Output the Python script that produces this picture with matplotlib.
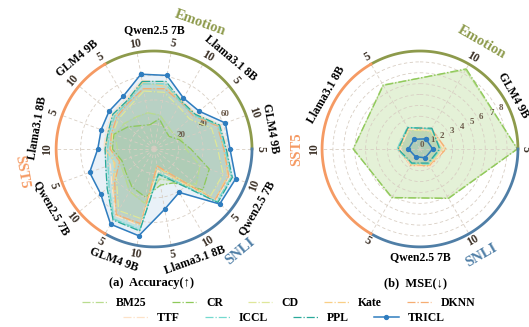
import numpy as np
import matplotlib.pyplot as plt
from matplotlib.lines import Line2D

plt.rcParams['font.family'] = ['Liberation Serif', 'DejaVu Serif']
plt.rcParams['font.weight'] = 'bold'

# ==================== DATA ====================
methods = ["BM25", "CR", "CD", "Kate", "DKNN", "TTF", "ICCL", "PPL", "TRICL"]
colors = ["#b9dc8f", "#8fc95a", "#dfe79a", "#f9cf86", "#f6ad72",
          "#fde2c8", "#74d9cf", "#2aa99a", "#2f7dbf"]

models = ["Qwen2.5 7B", "Llama3.1 8B", "GLM4 9B"]
shots = ["10", "5"]
datasets = ["Emotion", "SNLI", "SST5"]
ds_colors = ["#8d9a4b", "#4f7ea6", "#f59a63"]

# accuracy, 18 spokes clockwise from Emotion / Qwen2.5 7B / 10-shot
acc_bm25 = [30, 28, 22, 20, 24, 26, 40, 45, 30, 25, 45, 40, 32, 30, 30, 34, 32, 30]
acc_cr = [20, 25, 18, 16, 22, 30, 48, 52, 32, 30, 40, 36, 30, 28, 34, 35, 28, 22]
acc_cd = [48, 47, 40, 38, 50, 52, 60, 60, 22, 18, 58, 58, 40, 35, 35, 36, 38, 40]
acc_kate = [55, 52, 45, 44, 56, 57, 64, 65, 25, 14, 63, 62, 44, 34, 40, 40, 42, 45]
acc_dknn = [50, 50, 44, 42, 55, 57, 65, 65, 22, 14, 62, 62, 42, 30, 36, 37, 40, 43]
acc_ttf = [57, 55, 46, 45, 58, 60, 66, 66, 27, 18, 64, 63, 45, 38, 41, 42, 45, 47]
acc_iccl = [54, 54, 44, 43, 56, 58, 67, 67, 28, 20, 67, 66, 48, 40, 38, 39, 42, 44]
acc_ppl = [56, 56, 45, 44, 57, 59, 68, 68, 30, 21, 68, 67, 50, 42, 40, 40, 44, 45]
acc_tricl = [62, 61, 48, 48, 62, 62, 71, 70, 41, 50, 72, 71, 57, 56, 46, 46, 48, 50]

# mse, 6 spokes: GLM4 9B 10/5 (Emotion), Qwen2.5 7B 10/5 (SNLI), Llama3.1 8B 10/5 (SST5)
mse_bm25 = [8.4, 8.95, 5.2, 5.2, 6.1, 6.8]
mse_cr = [8.5, 8.95, 5.25, 5.15, 6.15, 6.75]
mse_cd = [1.9, 2.1, 1.7, 1.6, 1.9, 2.0]
mse_kate = [2.0, 2.3, 1.75, 1.7, 1.95, 2.1]
mse_dknn = [2.1, 2.4, 1.8, 1.75, 2.0, 2.15]
mse_ttf = [2.0, 2.2, 1.9, 1.8, 1.8, 2.1]
mse_iccl = [2.1, 1.9, 1.6, 1.55, 2.1, 2.3]
mse_ppl = [2.2, 1.8, 1.5, 1.5, 2.0, 2.25]
mse_tricl = [1.07, 1.16, 0.94, 0.82, 1.07, 1.03]
mse_models = ["GLM4 9B", "Qwen2.5 7B", "Llama3.1 8B"]

acc_all = [acc_bm25, acc_cr, acc_cd, acc_kate, acc_dknn, acc_ttf, acc_iccl, acc_ppl, acc_tricl]
mse_all = [mse_bm25, mse_cr, mse_cd, mse_kate, mse_dknn, mse_ttf, mse_iccl, mse_ppl, mse_tricl]


def rot(deg):
    deg = deg % 360
    if 90 < deg < 270:
        return 180 - deg
    return -deg


def setup(ax, angles, rmax, rticks):
    ax.set_theta_zero_location('N')
    ax.set_theta_direction(-1)
    ax.set_xticks(angles % (2 * np.pi))
    ax.set_xticklabels([])
    ax.set_xlim(0, 2 * np.pi)
    ax.set_ylim(0, rmax)
    ax.set_yticks(rticks)
    ax.set_yticklabels([str(t) for t in rticks], fontsize=6.5, color="#6b5a4a")
    ax.set_rlabel_position(65)
    ax.grid(True, ls=(0, (4, 3)), lw=0.6, color="#d8cec3")
    ax.spines['polar'].set_visible(False)
    ax.set_facecolor("none")


def draw_series(ax, angles, data):
    th = np.append(angles, angles[0])
    for name, col, vals in zip(methods, colors, data):
        v = np.append(vals, vals[0])
        if name == "TRICL":
            ax.plot(th, v, color=col, lw=1.1, marker='o', ms=2.8, zorder=5)
            ax.fill(th, v, color=col, alpha=0.10, zorder=1)
        else:
            ax.plot(th, v, color=col, lw=0.9, ls='-.', zorder=3)
            ax.fill(th, v, color=col, alpha=0.15, zorder=1)


def draw_arcs(ax, rmax):
    for i, col in enumerate(ds_colors):
        a0 = -30 + 120 * i
        th = np.deg2rad(np.linspace(a0, a0 + 120, 100))
        ax.plot(th, np.full(100, rmax), color=col, lw=2.0, clip_on=False, zorder=6)


fig = plt.figure(figsize=(5.29, 3.27), dpi=100)

# ==================== (a) ACCURACY ====================
ax1 = fig.add_axes([0.106, 0.245, 0.3705, 0.599], projection='polar')
ang1 = np.deg2rad(-10 + 20 * np.arange(18))
setup(ax1, ang1, 80, [20, 40, 60])
draw_series(ax1, ang1, acc_all)
draw_arcs(ax1, 80)

for k in range(18):
    d = -10 + 20 * k
    ax1.text(np.deg2rad(d), 80 * 1.09, shots[k % 2], fontsize=8.5, color="#3d3228",
             ha='center', va='center', rotation=rot(d))
for k in range(9):
    d = 40 * k
    ax1.text(np.deg2rad(d), 80 * 1.21, models[k % 3], fontsize=8.5,
             ha='center', va='center', rotation=rot(d))
for i, name in enumerate(datasets):
    d = 20 + 120 * i
    ax1.text(np.deg2rad(d), 80 * 1.37, name, fontsize=10.5, color=ds_colors[i],
             ha='center', va='center', rotation=rot(d))
ax1.set_xlim(0, 2 * np.pi)
ax1.set_ylim(0, 80)

# ==================== (b) MSE ====================
ax2 = fig.add_axes([0.6087, 0.245, 0.3705, 0.599], projection='polar')
ang2 = np.deg2rad(30 + 60 * np.arange(6))
setup(ax2, ang2, 9, list(range(0, 9)))
draw_series(ax2, ang2, mse_all)
draw_arcs(ax2, 9)

for k in range(6):
    d = 30 + 60 * k
    ax2.text(np.deg2rad(d), 9 * 1.08, shots[k % 2], fontsize=8.5, color="#3d3228",
             ha='center', va='center', rotation=rot(d))
for k in range(3):
    d = 60 + 120 * k
    ax2.text(np.deg2rad(d), 9 * 1.1, mse_models[k], fontsize=8.5,
             ha='center', va='center', rotation=rot(d))
for i, name in enumerate(datasets):
    d = 30 + 120 * i
    ax2.text(np.deg2rad(d), 9 * 1.26, name, fontsize=10.5, color=ds_colors[i],
             ha='center', va='center', rotation=rot(d))
ax2.set_xlim(0, 2 * np.pi)
ax2.set_ylim(0, 9)

# ==================== TITLES ====================
fig.text(0.287, 0.135, "(a)  Accuracy(↑)", fontsize=9, ha='center', va='center')
fig.text(0.786, 0.135, "(b)  MSE(↓)", fontsize=9, ha='center', va='center')

# ==================== LEGEND ====================
handles = []
for name, col in zip(methods, colors):
    if name == "TRICL":
        handles.append(Line2D([], [], color=col, lw=1.1, marker='o', ms=2.8))
    else:
        handles.append(Line2D([], [], color=col, lw=0.9, ls='-.'))

kw = dict(loc='center', frameon=False, fontsize=8.5, handlelength=2.1,
          columnspacing=2.1, handletextpad=0.8, borderpad=0, borderaxespad=0)
fig.legend(handles[:5], methods[:5], bbox_to_anchor=(0.527, 0.073), ncol=5, **kw)
fig.legend(handles[5:], methods[5:], bbox_to_anchor=(0.537, 0.027), ncol=4, **kw)

fig.savefig("out.png", dpi=100)
